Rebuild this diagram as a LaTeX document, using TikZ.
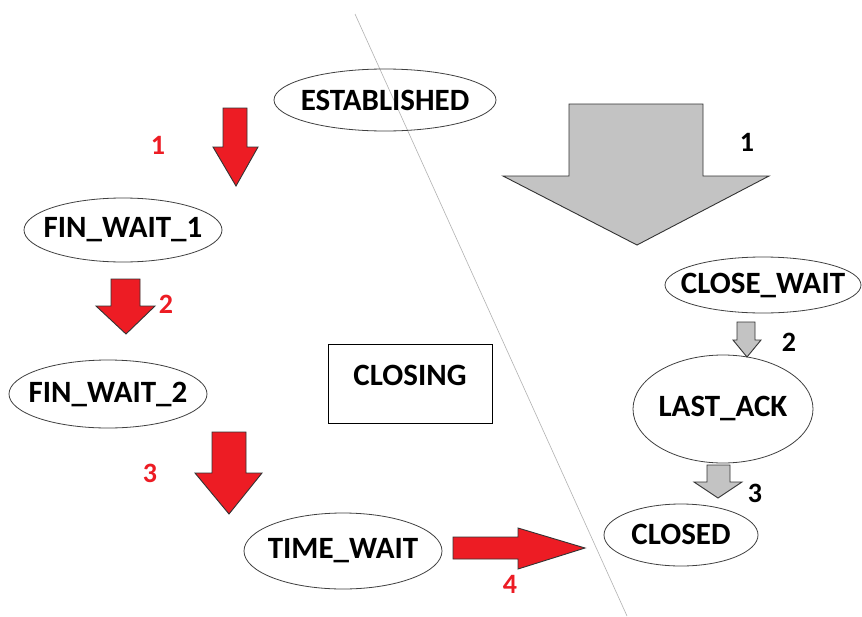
\documentclass[tikz,border=0pt]{standalone}
\usepackage{fontspec}
\setmainfont{Carlito}
\usetikzlibrary{shapes.geometric}
\definecolor{arrowred}{HTML}{ED1C24}
\definecolor{arrowgray}{HTML}{C3C3C3}
\definecolor{edgegray}{HTML}{404040}
% a label that does not widen its ellipse
\newcommand{\statetext}[1]{\makebox[0pt]{#1}}
\tikzset{
  state/.style={ellipse, draw=edgegray, line width=0.8pt, inner sep=0pt,
    font=\bfseries\fontsize{31}{34}\selectfont},
  redarrow/.style={fill=arrowred, draw=black!80, line width=0.9pt, line join=miter},
  grayarrow/.style={fill=arrowgray, draw=black!80, line width=0.9pt, line join=miter},
  rednum/.style={text=arrowred, font=\bfseries\fontsize{28}{30}\selectfont},
  blacknum/.style={text=black, font=\bfseries\fontsize{28}{30}\selectfont},
}
\begin{document}
\begin{tikzpicture}[x=1pt, y=-1pt]
\useasboundingbox (0,0) rectangle (862,616);
\fill[white] (0,0) rectangle (862,616);

% dividing line between the two sides
\coordinate (divtop) at (355,14);
\coordinate (divbot) at (627,616);
\draw[black!30, line width=0.6pt] (divtop) -- (divbot);

% states of the actively closing side
\node[state, minimum width=222pt, minimum height=62pt] (est) at (385,100) {\statetext{ESTABLISHED}};
\node[state, minimum width=198pt, minimum height=64pt] (fw1) at (123,230) {\statetext{FIN\_WAIT\_1}};
\node[state, minimum width=198pt, minimum height=68pt] (fw2) at (108,394) {\statetext{\raisebox{2pt}{FIN\_WAIT\_2}}};
\node[state, minimum width=198pt, minimum height=76pt] (tw) at (343,551) {\statetext{\raisebox{2pt}{TIME\_WAIT}}};

% states of the passively closing side
\node[state, minimum width=196pt, minimum height=56pt] (cw) at (763,285) {\statetext{\raisebox{2pt}{CLOSE\_WAIT}}};
\node[state, minimum width=180pt, minimum height=108pt] (la) at (723,409) {\statetext{\raisebox{6pt}{LAST\_ACK}}};
\node[state, minimum width=154pt, minimum height=62pt] (cl) at (681,535) {\statetext{\raisebox{2pt}{CLOSED}}};

% box in the middle
\draw[black, line width=0.9pt] (328,344) rectangle (492,423);
\node[font=\bfseries\fontsize{31}{34}\selectfont] (closing) at (410,375) {CLOSING};

% red block arrows
\draw[redarrow] (223,108) -- (247,108) -- (247,147) -- (258,147) -- (236,186)
  -- (213,147) -- (223,147) -- cycle;
\draw[redarrow] (111,279) -- (140,279) -- (140,306) -- (155,306) -- (126,334)
  -- (96,306) -- (111,306) -- cycle;
\draw[redarrow] (212,432) -- (246,432) -- (246,473) -- (262,473) -- (229,514)
  -- (195,473) -- (212,473) -- cycle;
\draw[redarrow] (453,537) -- (518,537) -- (518,528) -- (585,548) -- (518,569)
  -- (518,559) -- (453,559) -- cycle;

% gray block arrows
\draw[grayarrow] (569,104) -- (703,104) -- (703,176) -- (769,176) -- (637,245)
  -- (503,176) -- (569,176) -- cycle;
\draw[grayarrow] (737,322) -- (755,322) -- (755,340) -- (761,340) -- (747,357)
  -- (733,340) -- (737,340) -- cycle;
\draw[grayarrow] (707,465) -- (730,465) -- (730,482) -- (742,482) -- (718,498)
  -- (694,482) -- (707,482) -- cycle;

% step numbers
\node[rednum] (r1) at (158,145) {1};
\node[rednum] (r2) at (166,304) {2};
\node[rednum] (r3) at (150,473) {3};
\node[rednum] (r4) at (510,584) {4};
\node[blacknum] (b1) at (747,142) {1};
\node[blacknum] (b2) at (789,342) {2};
\node[blacknum] (b3) at (755,493) {3};
\end{tikzpicture}
\end{document}
